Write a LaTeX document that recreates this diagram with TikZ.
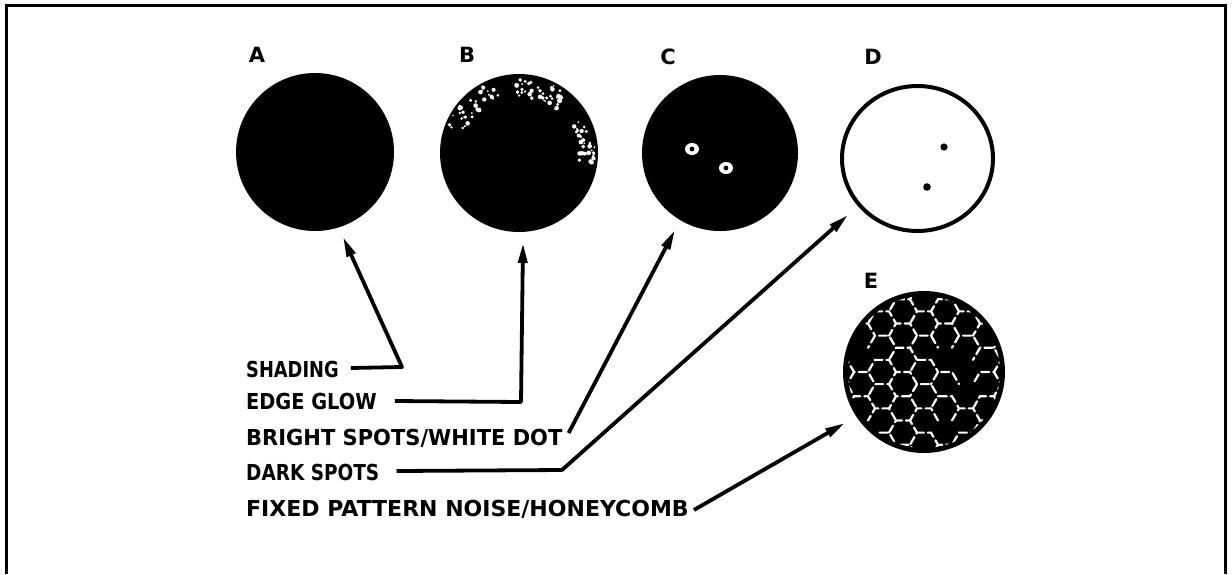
\documentclass[tikz,border=0pt]{standalone}
\usepackage{graphicx}
\usepackage{fontspec}
\setsansfont{DejaVu Sans}
\usetikzlibrary{arrows.meta,shapes.geometric}
\begin{document}
\begin{tikzpicture}[x=1pt,y=-1pt,
  lbl/.style={font=\sffamily\bfseries\fontsize{22}{24}\selectfont, inner sep=0pt, anchor=base west},
  letter/.style={font=\sffamily\bfseries\fontsize{21}{22}\selectfont, inner sep=0pt},
  disk/.style={circle, fill=black, inner sep=0pt},
  conn/.style={line width=3.8pt, line join=round, -{Triangle[length=20pt,width=9pt]}},
  hexedge/.style={white, line width=2.2pt, line cap=round}
]
\useasboundingbox (0,0) rectangle (1232,574);
% frame
\draw[line width=3pt] (6.5,574) -- (6.5,5.8) -- (1225.5,5.8) -- (1225.5,574);

% letters
\node[letter] (la) at (257,55) {A};
\node[letter] (lb) at (467,55) {B};
\node[letter] (lc) at (668,57) {C};
\node[letter] (ld) at (873,57) {D};
\node[letter] (le) at (871,281) {E};

% disks
\node[disk, minimum size=158pt] (A) at (315,152) {};
\node[disk, minimum size=158pt] (B) at (519,153) {};
\node[disk, minimum size=156pt] (C) at (720,153) {};
\node[ellipse, draw=black, line width=4pt, minimum width=151pt, minimum height=145pt, inner sep=0pt] (D) at (917.5,158.5) {};
\node[disk, minimum size=162pt] (E) at (924,372) {};

% B edge glow speckles
\pgfmathsetseed{7}
\foreach \i in {1,...,34} {
  \pgfmathsetmacro\a{110+50*rnd}
  \pgfmathsetmacro\r{58+18*rnd}
  \pgfmathsetmacro\s{0.9+1.5*rnd}
  \fill[white] ([shift={(\a:\r pt)}]B.center) circle[radius=\s pt];
}
\foreach \i in {1,...,40} {
  \pgfmathsetmacro\a{50+42*rnd}
  \pgfmathsetmacro\r{56+20*rnd}
  \pgfmathsetmacro\s{0.9+1.6*rnd}
  \fill[white] ([shift={(\a:\r pt)}]B.center) circle[radius=\s pt];
}
\foreach \i in {1,...,32} {
  \pgfmathsetmacro\a{-12+42*rnd}
  \pgfmathsetmacro\r{60+16*rnd}
  \pgfmathsetmacro\s{0.9+1.5*rnd}
  \fill[white] ([shift={(\a:\r pt)}]B.center) circle[radius=\s pt];
}

% C bright spots
\fill[white] (692,149) ellipse[x radius=7, y radius=6];
\fill[black] (692,149) circle[radius=2.4];
\fill[white] (726,168) ellipse[x radius=7, y radius=6];
\fill[black] (726,168) circle[radius=2.4];

% D dark spots
\fill[black] (944,147) circle[radius=3.6];
\fill[black] (927,187) circle[radius=3.8];

% E honeycomb
\begin{scope}
\clip (E.center) circle[radius=76];
\pgfmathsetseed{11}
\foreach \i in {-5,...,5} {
  \foreach \j in {-4,...,4} {
    \pgfmathsetmacro\cx{21*\i}
    \pgfmathsetmacro\cy{24.249*\j + 12.124*mod(abs(\i),2)}
    \pgfmathsetmacro\ph{14*rnd}
    \pgfmathtruncatemacro\keep{100*rnd}
    \ifnum\keep>12
      \draw[hexedge, dash pattern=on 8pt off 4pt, dash phase=\ph pt]
        ([shift={(\cx pt,\cy pt)}]E.center) ++(0:14pt) -- ++(120:14pt) -- ++(180:14pt) -- ++(240:14pt);
    \fi
  }
}
\end{scope}

% labels
\node[lbl] (sh) at (246,377) {\scalebox{0.81}[1]{SHADING}};
\node[lbl] (eg) at (246,409) {\scalebox{0.88}[1]{EDGE GLOW}};
\node[lbl] (bs) at (246,445) {\scalebox{0.955}[1]{BRIGHT SPOTS/WHITE DOT}};
\node[lbl] (ds) at (246,480) {\scalebox{0.84}[1]{DARK SPOTS}};
\node[lbl] (fp) at (246,516) {FIXED PATTERN NOISE/HONEYCOMB};

% connector points
\coordinate (c1) at (402,367);
\coordinate (tA) at (343,237);
\coordinate (c2) at (521,402);
\coordinate (tB) at (523,243);
\coordinate (tC) at (675,230);
\coordinate (c4) at (562,470);
\coordinate (tD) at (848,215);
\coordinate (tE) at (845,423);

\draw[conn] ([shift={(12pt,9pt)}]sh.base east) -- (c1) -- (tA);
\draw[conn] ([shift={(18pt,8pt)}]eg.base east) -- (c2) -- (tB);
\draw[conn] ([shift={(6pt,12pt)}]bs.base east) -- (tC);
\draw[conn] ([shift={(17pt,9pt)}]ds.base east) -- (c4) -- (tD);
\draw[conn] ([shift={(5pt,6pt)}]fp.base east) -- (tE);
\end{tikzpicture}
\end{document}
